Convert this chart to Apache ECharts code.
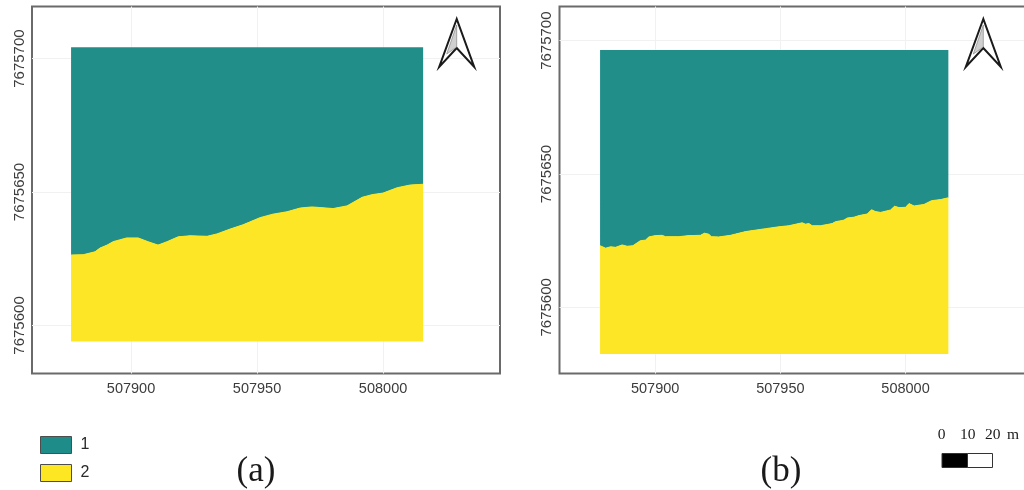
<!DOCTYPE html>
<html><head><meta charset="utf-8">
<style>html,body{margin:0;padding:0;background:#fff;overflow:hidden}#c{width:1024px;height:490px}</style>
<script src="https://cdn.jsdelivr.net/npm/echarts@6/dist/echarts.min.js"></script>
</head><body><div id="c"></div>
<script>
const classNames = ['1', '2'];
const xTickValues = [507900, 507950, 508000];
const yTickValues = [7675600, 7675650, 7675700];

const extentAY = [7675594.0, 7675704.2];
const boundaryAX = [507876.2,507881.0,507885.7,507887.7,507890.5,507892.9,507898.3,507902.8,507906.7,507910.7,507914.3,507918.7,507923.4,507930.2,507934.1,507939.3,507944.4,507951.2,507956.3,507961.9,507967.1,507971.8,507980.2,507985.7,507991.7,507995.6,508000.0,508005.6,508010.7,508015.9];
const boundaryAY = [7675626.4,7675626.5,7675627.6,7675629.0,7675630.1,7675631.4,7675632.8,7675632.8,7675631.4,7675630.1,7675631.4,7675633.2,7675633.6,7675633.4,7675634.3,7675636.1,7675637.7,7675640.4,7675641.7,7675642.6,7675644.0,7675644.4,7675643.8,7675644.8,7675648.0,7675649.0,7675649.6,7675651.6,7675652.6,7675652.9];

const extentBY = [7675582.5, 7675696.5];
const boundaryBX = [507878.0,507880.2,507882.2,507884.2,507886.8,507888.8,507891.1,507894.1,507896.1,507897.5,507900.1,507902.8,507904.1,507909.5,507913.5,507918.1,507919.7,507921.5,507922.4,507925.4,507930.1,507936.1,507944.1,507949.4,507953.4,507958.7,507960.0,507961.4,507962.7,507966.0,507970.7,507972.0,507975.4,507976.7,507979.4,507981.4,507984.7,507986.4,507988.0,507990.0,507994.0,507995.6,507997.4,508000.0,508001.4,508003.4,508007.4,508010.4,508014.0,508017.1];
const boundaryBY = [7675623.1,7675622.2,7675622.7,7675622.5,7675623.4,7675622.9,7675623.1,7675625.0,7675625.2,7675626.4,7675626.9,7675627.0,7675626.5,7675626.5,7675626.9,7675627.0,7675627.8,7675627.4,7675626.5,7675626.4,7675627.0,7675628.4,7675629.5,7675630.2,7675630.6,7675631.7,7675631.2,7675631.4,7675630.6,7675630.6,7675631.4,7675632.1,7675632.7,7675633.5,7675633.8,7675634.4,7675635.0,7675636.6,7675635.9,7675635.6,7675636.5,7675637.9,7675637.4,7675637.5,7675638.9,7675638.0,7675638.6,7675640.0,7675640.4,7675641.1];

const TEAL = '#1e8c88', YELLOW = '#fde622';
const SANS = '"Liberation Sans", Arial, sans-serif';
const SERIF = '"Liberation Serif", "Times New Roman", serif';
const zip = (a, b) => a.map((v, i) => [v, b[i]]);

function xAxis(idx, min, max) {
  return { type: 'value', gridIndex: idx, min, max, scale: true,
    axisLine: { show: false }, axisTick: { show: false, customValues: xTickValues },
    splitLine: { show: true, lineStyle: { color: '#f1f1f1', width: 1 } },
    axisLabel: { customValues: xTickValues, formatter: v => String(v), color: '#3c3c3c', fontFamily: SANS, fontSize: 14.5, margin: 8 } };
}
function yAxis(idx, min, max) {
  return { type: 'value', gridIndex: idx, min, max, scale: true,
    axisLine: { show: false }, axisTick: { show: false, customValues: yTickValues },
    splitLine: { show: true, lineStyle: { color: '#f1f1f1', width: 1 } },
    axisLabel: { customValues: yTickValues, formatter: v => String(v), rotate: 90, color: '#3c3c3c', fontFamily: SANS, fontSize: 15, margin: 5 } };
}
function zone(name, idx, pts, origin, color, edge) {
  return { name, type: 'line', xAxisIndex: idx, yAxisIndex: idx, data: pts, showSymbol: false, symbol: 'none',
    silent: true, animation: false, clip: true, z: edge ? 3 : 2, lineStyle: { width: edge ? 1 : 0, color }, itemStyle: { color },
    areaStyle: { color, opacity: 0.98, origin } };
}
function arrow(cx) {
  const tip = [cx, 19], l = [cx - 17.5, 67], r = [cx + 17.5, 67], n = [cx, 48];
  return [
    { type: 'polygon', shape: { points: [tip, l, n, r] }, style: { fill: '#fff', stroke: '#1a1a1a', lineWidth: 2, lineJoin: 'miter' }, z: 20 },
    { type: 'polygon', shape: { points: [[cx, 25], [cx, 47], [cx - 10, 54]] }, style: { fill: '#cfcfcf', stroke: '#777', lineWidth: 0.6 }, z: 21 }
  ];
}
const txt = (x, y, text, size, family) => ({ type: 'text', x, y, z: 20, style: { text, fontFamily: family, fontSize: size, fill: '#1a1a1a', align: 'center', verticalAlign: 'middle' } });

const chart = echarts.init(document.getElementById('c'), null, { renderer: 'canvas' });
chart.setOption({
  animation: false,
  backgroundColor: '#fff',
  grid: [
    { left: 32, top: 6.5, width: 468, height: 367, show: true, borderColor: '#6a6a6a', borderWidth: 2, backgroundColor: '#fff', outerBoundsMode: 'none' },
    { left: 559.5, top: 6.5, width: 468, height: 367, show: true, borderColor: '#6a6a6a', borderWidth: 2, backgroundColor: '#fff', outerBoundsMode: 'none' }
  ],
  xAxis: [xAxis(0, 507860.7, 508046.4), xAxis(1, 507861.8, 508048.7)],
  yAxis: [yAxis(0, 7675582.0, 7675719.5), yAxis(1, 7675575.2, 7675712.8)],
  legend: {
    left: 40, top: 436, padding: 0, orient: 'vertical', itemWidth: 31, itemHeight: 17, itemGap: 10, selectedMode: false,
    textStyle: { fontFamily: SANS, fontSize: 16, color: '#2a2a2a', padding: [0, 0, 0, 4] },
    data: [
      { name: classNames[0], icon: 'rect', itemStyle: { color: TEAL, borderColor: '#4d4d4d', borderWidth: 1 } },
      { name: classNames[1], icon: 'rect', itemStyle: { color: YELLOW, borderColor: '#4d4d4d', borderWidth: 1 } }
    ]
  },
  series: [
    zone(classNames[0], 0, zip(boundaryAX, boundaryAY), extentAY[1], TEAL, false),
    zone(classNames[1], 0, zip(boundaryAX, boundaryAY), extentAY[0], YELLOW, true),
    zone(classNames[0], 1, zip(boundaryBX, boundaryBY), extentBY[1], TEAL, false),
    zone(classNames[1], 1, zip(boundaryBX, boundaryBY), extentBY[0], YELLOW, true)
  ],
  graphic: { elements: [
    ...arrow(456.7), ...arrow(983.3),
    txt(256, 472, '(a)', 35, SERIF),
    txt(781, 472, '(b)', 35, SERIF),
    txt(941.7, 435, '0', 15.5, SERIF),
    txt(967.7, 435, '10', 15.5, SERIF),
    txt(992.7, 435, '20', 15.5, SERIF),
    txt(1013, 435, 'm', 15.5, SERIF),
    { type: 'rect', shape: { x: 942, y: 453.5, width: 25.5, height: 14 }, style: { fill: '#000', stroke: '#333', lineWidth: 1 }, z: 20 },
    { type: 'rect', shape: { x: 967.5, y: 453.5, width: 25, height: 14 }, style: { fill: '#fff', stroke: '#333', lineWidth: 1 }, z: 20 }
  ] }
});
</script></body></html>
